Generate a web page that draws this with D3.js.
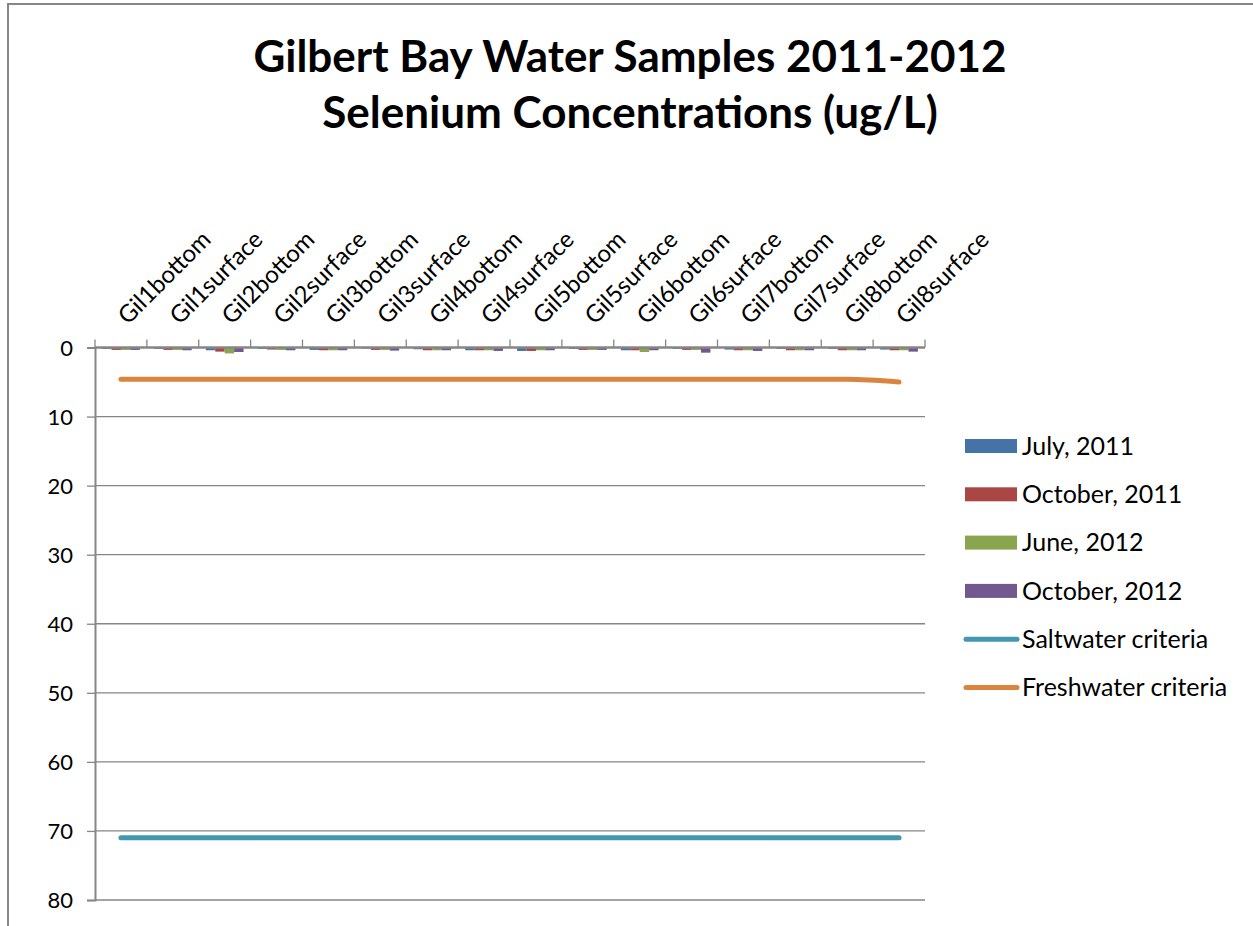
<!DOCTYPE html>
<html>
<head>
<meta charset="utf-8">
<script src="https://cdn.jsdelivr.net/npm/d3@7"></script>
<style>
  body { margin: 0; background: #fff; }
  text { font-family: Lato, "Open Sans", sans-serif; fill: #000; }
</style>
</head>
<body>
<script>
// categories along the (top) axis
const categories = ["Gil1bottom", "Gil1surface", "Gil2bottom", "Gil2surface", "Gil3bottom", "Gil3surface",
  "Gil4bottom", "Gil4surface", "Gil5bottom", "Gil5surface", "Gil6bottom", "Gil6surface",
  "Gil7bottom", "Gil7surface", "Gil8bottom", "Gil8surface"];

// sample series (ug/L)
const july2011 = [0.2, 0.2, 0.4, 0.2, 0.35, 0.15, 0.25, 0.4, 0.5, 0.2, 0.4, 0.2, 0.3, 0.2, 0.2, 0.3];
const oct2011  = [0.35, 0.35, 0.6, 0.3, 0.4, 0.35, 0.4, 0.4, 0.5, 0.35, 0.4, 0.35, 0.4, 0.4, 0.4, 0.4];
const june2012 = [0.35, 0.35, 0.85, 0.35, 0.4, 0.35, 0.4, 0.4, 0.4, 0.35, 0.65, 0.35, 0.4, 0.4, 0.4, 0.4];
const oct2012  = [0.35, 0.4, 0.65, 0.4, 0.4, 0.45, 0.4, 0.5, 0.4, 0.35, 0.4, 0.75, 0.5, 0.4, 0.4, 0.6];

// criteria lines
const saltwater  = [71, 71, 71, 71, 71, 71, 71, 71, 71, 71, 71, 71, 71, 71, 71, 71];
const freshwater = [4.6, 4.6, 4.6, 4.6, 4.6, 4.6, 4.6, 4.6, 4.6, 4.6, 4.6, 4.6, 4.6, 4.6, 4.6, 5.0];

const yTicks = [0, 10, 20, 30, 40, 50, 60, 70, 80];

const barSeries = [
  {name: "July, 2011", values: july2011, color: "#4572A7"},
  {name: "October, 2011", values: oct2011, color: "#AA4643"},
  {name: "June, 2012", values: june2012, color: "#89A54E"},
  {name: "October, 2012", values: oct2012, color: "#71588F"}
];
const lineSeries = [
  {name: "Saltwater criteria", values: saltwater, color: "#4198AF"},
  {name: "Freshwater criteria", values: freshwater, color: "#DB843D"}
];

const W = 1253, H = 926;
const svg = d3.select("body").append("svg")
  .attr("width", W)
  .attr("height", H);

// chart frame (runs off the right and bottom edges)
svg.append("rect")
  .attr("x", 8).attr("y", 4)
  .attr("width", W + 10).attr("height", H + 10)
  .attr("fill", "#fff")
  .attr("stroke", "#868686")
  .attr("stroke-width", 2);

// title
const title = svg.append("text")
  .attr("text-anchor", "middle")
  .style("font-weight", "bold")
  .style("font-size", "44px");
title.append("tspan").attr("x", 630).attr("y", 72).text("Gilbert Bay Water Samples 2011-2012");
title.append("tspan").attr("x", 630).attr("y", 128).text("Selenium Concentrations (ug/L)");

const x = d3.scaleBand().domain(categories).range([95, 925]);
const xs = d3.scaleBand().domain(barSeries.map(s => s.name))
  .range([0, x.bandwidth()])
  .paddingOuter(0.75);
// reversed value axis: 0 at the top
const y = d3.scaleLinear().domain([0, 80]).range([347.5, 900]);

// gridlines
svg.append("g")
  .selectAll("line")
  .data(yTicks.slice(1))
  .enter()
    .append("line")
    .attr("x1", 95).attr("x2", 925)
    .attr("y1", d => y(d)).attr("y2", d => y(d))
    .attr("stroke", "#868686")
    .attr("stroke-width", 1.3);

// bars hang down from 0
barSeries.forEach(s => {
  svg.append("g")
    .selectAll("rect")
    .data(s.values)
    .enter()
      .append("rect")
      .attr("x", (d, i) => x(categories[i]) + xs(s.name))
      .attr("y", y(0))
      .attr("width", xs.bandwidth())
      .attr("height", d => y(d) - y(0))
      .attr("fill", s.color);
});

// value axis on the left
const yAxis = d3.axisLeft(y).tickValues(yTicks).tickSize(8).tickPadding(14);
const yg = svg.append("g").attr("transform", "translate(95,0)").call(yAxis);
yg.select(".domain").attr("stroke", "#868686").attr("stroke-width", 2);
yg.selectAll(".tick line").attr("stroke", "#868686").attr("stroke-width", 1.3);
yg.selectAll(".tick text").style("font-size", "22px").attr("dy", "0.35em");

// category axis along the top (at 0)
const xg = svg.append("g");
xg.append("line")
  .attr("x1", 95).attr("x2", 925)
  .attr("y1", y(0)).attr("y2", y(0))
  .attr("stroke", "#868686").attr("stroke-width", 2.5);
const bounds = categories.map(c => x(c)).concat([x.range()[1]]);
xg.selectAll("line.tk")
  .data(bounds)
  .enter()
    .append("line")
    .attr("class", "tk")
    .attr("x1", d => d).attr("x2", d => d)
    .attr("y1", y(0)).attr("y2", y(0) - 8)
    .attr("stroke", "#868686").attr("stroke-width", 1.3);
xg.selectAll("text")
  .data(categories)
  .enter()
    .append("text")
    .attr("transform", d => `translate(${x(d) + x.bandwidth() / 2 + 7},${y(0) - 22}) rotate(-45)`)
    .style("font-size", "24px")
    .text(d => d);

// criteria lines
const line = d3.line()
  .x((d, i) => x(categories[i]) + x.bandwidth() / 2)
  .y(d => y(d))
  .curve(d3.curveMonotoneX);
lineSeries.forEach(s => {
  svg.append("path")
    .datum(s.values)
    .attr("d", line)
    .attr("fill", "none")
    .attr("stroke", s.color)
    .attr("stroke-width", 5)
    .attr("stroke-linecap", "round");
});

// legend
const legend = svg.append("g").attr("transform", "translate(965,0)");
const rowY = i => 446 + i * 48.3;
barSeries.forEach((s, i) => {
  legend.append("rect")
    .attr("x", 0).attr("y", rowY(i) - 7)
    .attr("width", 52).attr("height", 14)
    .attr("fill", s.color);
  legend.append("text")
    .attr("x", 57).attr("y", rowY(i)).attr("dy", "0.35em")
    .style("font-size", "25px")
    .text(s.name);
});
lineSeries.forEach((s, j) => {
  const i = j + barSeries.length;
  legend.append("line")
    .attr("x1", 1).attr("x2", 52)
    .attr("y1", rowY(i)).attr("y2", rowY(i))
    .attr("stroke", s.color)
    .attr("stroke-width", 5)
    .attr("stroke-linecap", "round");
  legend.append("text")
    .attr("x", 57).attr("y", rowY(i)).attr("dy", "0.35em")
    .style("font-size", "25px")
    .text(s.name);
});
</script>
</body>
</html>
